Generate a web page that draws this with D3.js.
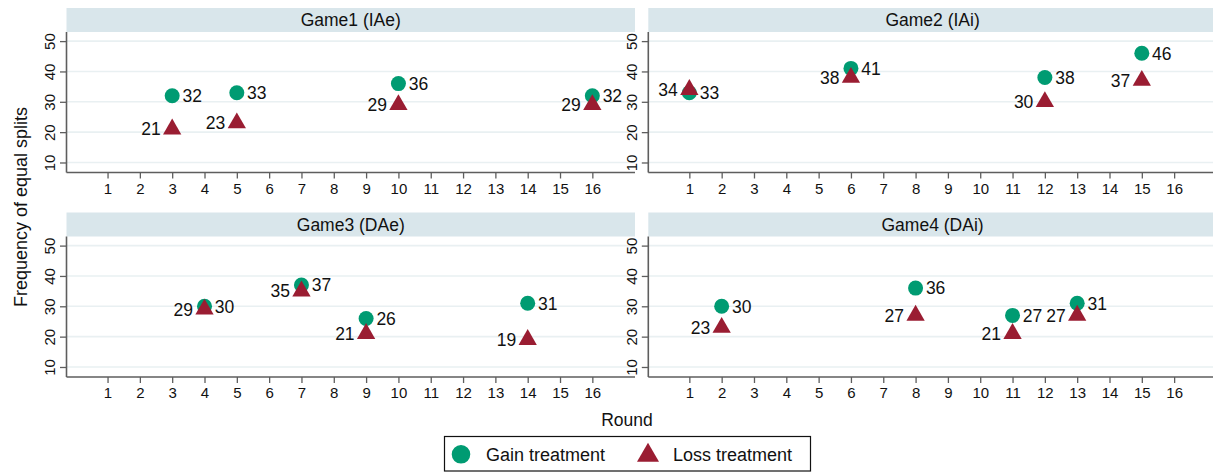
<!DOCTYPE html>
<html>
<head>
<meta charset="utf-8">
<script src="https://cdn.jsdelivr.net/npm/d3@7"></script>
<style>
  html, body { margin: 0; padding: 0; background: #fff; }
  svg { display: block; font-family: "Liberation Sans", Arial, Helvetica, sans-serif; }
</style>
</head>
<body>
<svg id="chart" width="1213" height="472"></svg>
<script>
// Frequency of equal splits by round, gain vs loss treatment, one panel per game
const gameTitles = ["Game1 (IAe)", "Game2 (IAi)", "Game3 (DAe)", "Game4 (DAi)"];

const game1Rounds = [3, 5, 10, 16];
const game1Gain   = [32, 33, 36, 32];
const game1Loss   = [21, 23, 29, 29];

const game2Rounds = [1, 6, 12, 15];
const game2Gain   = [33, 41, 38, 46];
const game2Loss   = [34, 38, 30, 37];

const game3Rounds = [4, 7, 9, 14];
const game3Gain   = [30, 37, 26, 31];
const game3Loss   = [29, 35, 21, 19];

const game4Rounds = [2, 8, 11, 13];
const game4Gain   = [30, 36, 27, 31];
const game4Loss   = [23, 27, 21, 27];

const roundTicks = [1, 2, 3, 4, 5, 6, 7, 8, 9, 10, 11, 12, 13, 14, 15, 16];
const freqTicks  = [10, 20, 30, 40, 50];
const seriesNames = ["Gain treatment", "Loss treatment"];

const panelData = [
  { title: gameTitles[0], rounds: game1Rounds, gain: game1Gain, loss: game1Loss },
  { title: gameTitles[1], rounds: game2Rounds, gain: game2Gain, loss: game2Loss },
  { title: gameTitles[2], rounds: game3Rounds, gain: game3Gain, loss: game3Loss },
  { title: gameTitles[3], rounds: game4Rounds, gain: game4Gain, loss: game4Loss }
];

const GREEN = "#009b72";
const RED = "#9a1d32";
const STRIP = "#d9e6eb";
const GRID = "#e9f0f2";
const AXIS = "#5e5e5e";

const svg = d3.select("#chart");

const panelW = 568.5, stripH = 24, plotH = 140.5;
const panelPos = [
  { left: 66.5,  top: 8 },
  { left: 648.3, top: 8 },
  { left: 66.5,  top: 212.5 },
  { left: 648.3, top: 212.5 }
];

const x = d3.scaleLinear().domain([-0.27, 17.32]).range([0, panelW]);
const y = d3.scaleLinear().domain([6.7, 53]).range([plotH, 0]);

const circleSym = d3.symbol().type(d3.symbolCircle).size(Math.PI * 7.5 * 7.5);
const triSym = d3.symbol().type(d3.symbolTriangle).size(145);

panelData.forEach((p, i) => {
  const pos = panelPos[i];
  const g = svg.append("g").attr("transform", `translate(${pos.left},${pos.top})`);

  // title strip
  g.append("rect")
    .attr("x", 0).attr("y", 0)
    .attr("width", panelW).attr("height", stripH)
    .attr("fill", STRIP);
  g.append("text")
    .attr("x", panelW / 2).attr("y", stripH / 2 + 6)
    .attr("text-anchor", "middle")
    .attr("font-size", 17.5)
    .attr("fill", "#111")
    .text(p.title);

  const plot = g.append("g").attr("transform", `translate(0,${stripH})`);

  // horizontal gridlines
  plot.selectAll("line.grid")
    .data(freqTicks)
    .join("line")
    .attr("class", "grid")
    .attr("x1", 0).attr("x2", panelW)
    .attr("y1", d => y(d)).attr("y2", d => y(d))
    .attr("stroke", GRID).attr("stroke-width", 1.6);

  // y axis
  const yAxis = plot.append("g")
    .call(d3.axisLeft(y).tickValues(freqTicks).tickSize(6.5).tickSizeOuter(0));
  yAxis.select(".domain").remove();
  yAxis.selectAll(".tick line").attr("stroke", AXIS).attr("stroke-width", 1.3);
  yAxis.selectAll(".tick text")
    .attr("x", 0).attr("y", 0).attr("dy", null)
    .attr("text-anchor", "middle")
    .attr("transform", "translate(-11.5,0) rotate(-90)")
    .attr("font-size", 15).attr("fill", "#111")
    .attr("font-family", "Liberation Sans, Arial, sans-serif");
  plot.append("line")
    .attr("x1", 0).attr("x2", 0).attr("y1", 0).attr("y2", plotH)
    .attr("stroke", AXIS).attr("stroke-width", 1.6);

  // x axis
  const xAxis = plot.append("g")
    .attr("transform", `translate(0,${plotH})`)
    .call(d3.axisBottom(x).tickValues(roundTicks).tickSize(6).tickSizeOuter(0));
  xAxis.select(".domain").remove();
  xAxis.selectAll(".tick line").attr("stroke", AXIS).attr("stroke-width", 1.3);
  xAxis.selectAll(".tick text")
    .attr("y", 21.3).attr("dy", null)
    .attr("font-size", 15).attr("fill", "#111")
    .attr("font-family", "Liberation Sans, Arial, sans-serif");
  plot.append("line")
    .attr("x1", 0).attr("x2", panelW).attr("y1", plotH).attr("y2", plotH)
    .attr("stroke", AXIS).attr("stroke-width", 1.6);

  const pts = p.rounds.map((r, k) => ({ r, gain: p.gain[k], loss: p.loss[k] }));

  // gain markers and labels (label to the right)
  plot.selectAll("path.gain")
    .data(pts).join("path")
    .attr("class", "gain")
    .attr("d", circleSym)
    .attr("transform", d => `translate(${x(d.r)},${y(d.gain)})`)
    .attr("fill", GREEN);

  // loss markers drawn over the gain markers
  plot.selectAll("path.loss")
    .data(pts).join("path")
    .attr("class", "loss")
    .attr("d", triSym)
    .attr("transform", d => `translate(${x(d.r)},${y(d.loss)})`)
    .attr("fill", RED);

  plot.selectAll("text.gainlab")
    .data(pts).join("text")
    .attr("class", "gainlab")
    .attr("x", d => x(d.r) + 10.3)
    .attr("y", d => y(d.gain) + 6.3)
    .attr("font-size", 17.5).attr("fill", "#111")
    .text(d => d.gain);

  plot.selectAll("text.losslab")
    .data(pts).join("text")
    .attr("class", "losslab")
    .attr("x", d => x(d.r) - 11.5)
    .attr("y", d => y(d.loss) + 6.3)
    .attr("text-anchor", "end")
    .attr("font-size", 17.5).attr("fill", "#111")
    .text(d => d.loss);
});

// axis titles
svg.append("text")
  .attr("transform", "translate(27,207) rotate(-90)")
  .attr("text-anchor", "middle")
  .attr("font-size", 18).attr("fill", "#111")
  .text("Frequency of equal splits");

svg.append("text")
  .attr("x", 627).attr("y", 425.5)
  .attr("text-anchor", "middle")
  .attr("font-size", 17.5).attr("fill", "#111")
  .text("Round");

// legend
const legend = svg.append("g");
legend.append("rect")
  .attr("x", 444.5).attr("y", 436.5)
  .attr("width", 366).attr("height", 34.5)
  .attr("fill", "#fff").attr("stroke", "#111").attr("stroke-width", 1.2);

legend.append("path")
  .attr("d", d3.symbol().type(d3.symbolCircle).size(Math.PI * 9.3 * 9.3))
  .attr("transform", "translate(461,454.3)")
  .attr("fill", GREEN);
legend.append("text")
  .attr("x", 486).attr("y", 460.8)
  .attr("font-size", 18).attr("fill", "#111")
  .text(seriesNames[0]);

legend.append("path")
  .attr("d", d3.symbol().type(d3.symbolTriangle).size(210))
  .attr("transform", "translate(648,455.5)")
  .attr("fill", RED);
legend.append("text")
  .attr("x", 673).attr("y", 460.8)
  .attr("font-size", 18).attr("fill", "#111")
  .text(seriesNames[1]);
</script>
</body>
</html>
